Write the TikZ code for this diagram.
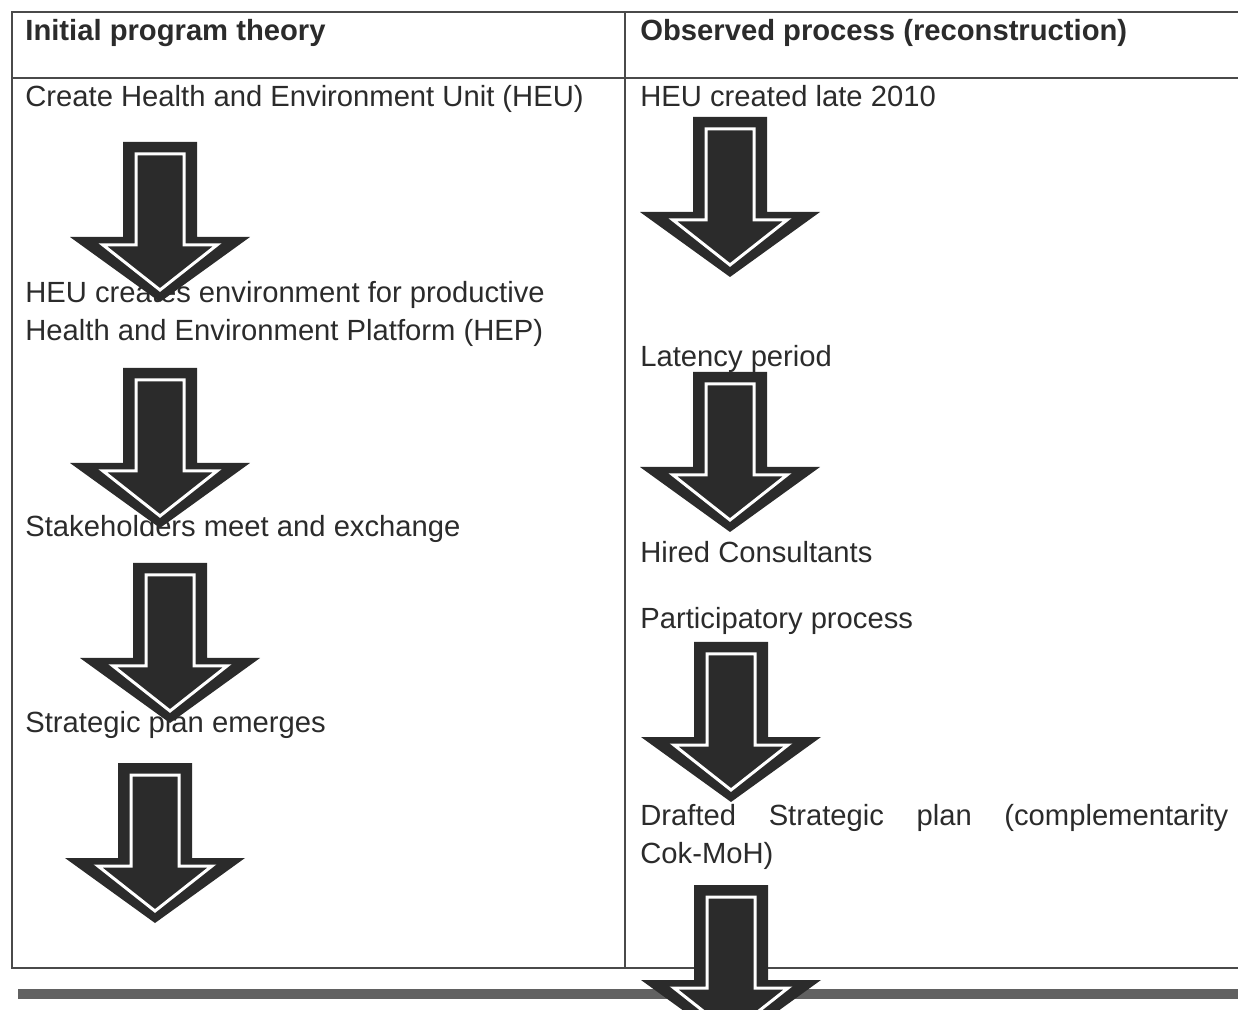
\documentclass[tikz,border=0pt]{standalone}
\usepackage{fontspec}
\setmainfont{Liberation Sans}
\usepackage{tikz}
\definecolor{ink}{HTML}{2B2B2B}
\definecolor{rule}{HTML}{4A4A4A}
\tikzset{
  cell/.style={draw=rule, line width=1pt},                            % table rules
  txt/.style={anchor=base west, inner sep=0pt, text=ink,
              font=\fontsize{14.6}{19}\selectfont},
  hd/.style={txt, font=\fontsize{14.6}{19}\selectfont\bfseries},
  arrowfill/.style={fill=ink},
  arrowrim/.style={draw=white, line width=1.5pt, line join=miter},
  footrule/.style={draw=black!62, line width=5pt},
  downarrow/.pic={
    \fill[arrowfill] (-37,0) -- (37,0) -- (37,95) -- (90,95) -- (0,160)
                     -- (-90,95) -- (-37,95) -- cycle;
    \draw[arrowrim] (-24,12) -- (24,12) -- (24,103) -- (57,103) -- (0,148)
                    -- (-57,103) -- (-24,103) -- cycle;
  },
}
\begin{document}
\begin{tikzpicture}[x=0.5pt, y=-0.5pt]
  \useasboundingbox (0,0) rectangle (1238,1010);
  \clip (0,0) rectangle (1238,1010);
  % table
  \draw[cell] (1238,12) -- (12,12) -- (12,968) -- (1238,968);
  \draw[cell] (12,78) -- (1238,78);
  \draw[cell] (625,12) -- (625,968);
  \draw[footrule] (18,994) -- (1238,994);
  % left column
  \node[hd]  (hdl) at (25,41)  {Initial program theory};
  \node[txt] (l1)  at (25,107) {Create Health and Environment Unit (HEU)};
  \node[txt] (l2a) at (25,303) {HEU creates environment for productive};
  \node[txt] (l2b) at (25,341) {Health and Environment Platform (HEP)};
  \node[txt] (l3)  at (25,537) {Stakeholders meet and exchange};
  \node[txt] (l4)  at (25,733) {Strategic plan emerges};
  % right column
  \node[hd]  (hdr) at (640,41)  {Observed process (reconstruction)};
  \node[txt] (r1)  at (640,107) {HEU created late 2010};
  \node[txt] (r2)  at (640,367) {Latency period};
  \node[txt] (r3)  at (640,563) {Hired Consultants};
  \node[txt] (r4)  at (640,629) {Participatory process};
  \node[txt] (r5a) at (640,825) {\hbox to 294pt{Drafted\hfill Strategic\hfill plan\hfill (complementarity}};
  \node[txt] (r5b) at (640,863) {Cok-MoH)};
  % block arrows
  \foreach \ax/\ay in {160/142, 160/368, 170/563, 155/763,
                       730/117, 730/372, 731/642, 731/885}
    \pic at (\ax,\ay) {downarrow};
\end{tikzpicture}
\end{document}
